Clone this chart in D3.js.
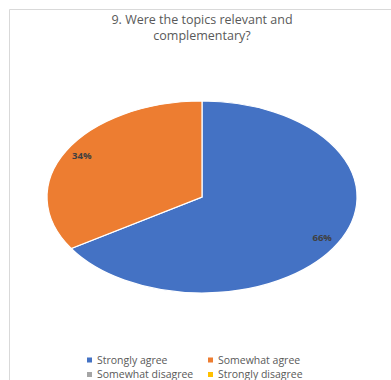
<!DOCTYPE html>
<html>
<head>
<meta charset="utf-8">
<script src="https://cdn.jsdelivr.net/npm/d3@7"></script>
<style>
  html, body { margin: 0; padding: 0; background: #fff; }
  svg { display: block; }
  text { font-family: "Open Sans", "Liberation Sans", sans-serif; }
</style>
</head>
<body>
<svg id="chart" width="391" height="380"></svg>
<script>
const titleLines = ["9. Were the topics relevant and", "complementary?"];
const categories = ["Strongly agree", "Somewhat agree", "Somewhat disagree", "Strongly disagree"];
const values = [66, 34, 0, 0];
const colors = ["#4472C4", "#ED7D31", "#A5A5A5", "#FFC000"];

const svg = d3.select("#chart");

// chart area border
svg.append("path")
  .attr("d", "M9.5,391 V9.5 H391")
  .attr("fill", "none")
  .attr("stroke", "#d9d9d9")
  .attr("stroke-width", 1);

// title
const title = svg.append("text")
  .attr("x", 202)
  .attr("text-anchor", "middle")
  .attr("fill", "#595959")
  .attr("font-size", 12.5);
titleLines.forEach((t, i) => {
  title.append("tspan").attr("x", 202).attr("y", 24 + i * 15.5).text(t);
});

// pie (elliptical, stretched)
const cx = 202, cy = 197, rx = 155, ry = 96;
const total = d3.sum(values);
const pie = d3.pie().sort(null).value(d => d)(values);
const arc = d3.arc().innerRadius(0).outerRadius(1);
const g = svg.append("g").attr("transform", `translate(${cx},${cy}) scale(${rx},${ry})`);
g.selectAll("path.slice")
  .data(pie.filter(d => d.value > 0))
  .join("path")
  .attr("class", "slice")
  .attr("d", arc)
  .attr("fill", d => colors[d.index])
  .attr("stroke", "#fff")
  .attr("stroke-width", 1.2)
  .attr("vector-effect", "non-scaling-stroke");

// labels
const labelArc = d3.arc().innerRadius(0.885).outerRadius(0.885);
svg.selectAll("text.lbl")
  .data(pie.filter(d => d.value > 0))
  .join("text")
  .attr("class", "lbl")
  .attr("x", d => cx + labelArc.centroid(d)[0] * rx)
  .attr("y", d => cy + labelArc.centroid(d)[1] * ry)
  .attr("dy", "0.35em")
  .attr("text-anchor", "middle")
  .attr("fill", "#404040")
  .attr("font-size", 9.5)
  .attr("font-weight", "bold")
  .text(d => Math.round(d.value / total * 100) + "%");

// legend
const legX = [87, 208];
const legY = [360, 374.5];
const leg = svg.selectAll("g.leg")
  .data(categories)
  .join("g")
  .attr("class", "leg")
  .attr("transform", (d, i) => `translate(${legX[i % 2]},${legY[Math.floor(i / 2)]})`);
leg.append("rect")
  .attr("x", 0).attr("y", -2.5).attr("width", 5).attr("height", 5)
  .attr("fill", (d, i) => colors[i]);
leg.append("text")
  .attr("x", 10)
  .attr("dy", "0.35em")
  .attr("fill", "#595959")
  .attr("font-size", 10.5)
  .text(d => d);
</script>
</body>
</html>
